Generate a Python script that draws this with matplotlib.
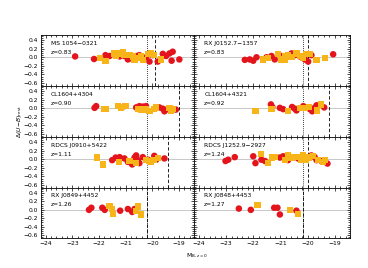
import matplotlib
matplotlib.use("Agg")
import matplotlib.pyplot as plt
from matplotlib.ticker import MultipleLocator, FixedLocator

# ---------------- data ----------------
names = ["MS 1054\u22120321", "RX J0152.7\u22121357",
         "CL1604+4304", "CL1604+4321",
         "RDCS J0910+5422", "RDCS J1252.9\u22122927",
         "RX J0849+4452", "RX J0848+4453"]
redshifts = ["z=0.83", "z=0.83", "z=0.90", "z=0.92",
             "z=1.11", "z=1.24", "z=1.26", "z=1.27"]
m_dotted = [-20.22, -20.17, -20.22, -20.17, -20.22, -20.17, -20.22, -20.17]
m_dashed = [-19.92, -19.98, -19.02, -19.21, -19.42, -19.98, -20.22, -20.17]

red_x = [
    [-22.90, -22.19, -21.76, -21.61, -21.42, -21.23, -21.05, -20.92, -20.80, -20.61, -20.49,
     -20.24, -20.11, -19.99, -19.80, -19.61, -19.49, -19.36, -19.24, -19.28, -18.99],
    [-22.31, -22.13, -22.00, -21.88, -21.51, -21.33, -21.21, -20.96, -20.59, -20.47, -20.29,
     -20.10, -19.98, -19.86, -19.06],
    [-22.17, -22.11, -21.05, -20.61, -20.49, -20.36, -20.24, -19.74, -19.61, -19.55, -19.43, -19.12],
    [-21.35, -21.30, -21.02, -20.90, -20.57, -20.47, -20.41, -20.16, -19.92, -19.83, -19.74,
     -19.67, -19.39],
    [-21.51, -21.38, -21.23, -21.05, -20.92, -20.80, -20.76, -20.67, -20.61, -20.55, -20.49,
     -20.36, -20.17, -19.93, -19.86, -19.55],
    [-23.02, -22.92, -22.68, -22.00, -21.92, -21.70, -21.57, -21.02, -20.90, -20.72, -20.35,
     -19.86, -19.74, -19.67, -19.49, -19.37, -19.27],
    [-22.38, -22.29, -21.88, -21.79, -21.21, -20.92, -20.76, -20.67],
    [-22.53, -22.09, -21.23, -21.11, -21.02, -20.41],
]
red_y = [
    [0.02, -0.04, 0.05, 0.03, 0.07, 0.02, 0.03, -0.05, -0.02, 0.03, 0.05,
     0.00, -0.10, 0.05, -0.10, 0.08, 0.03, 0.09, 0.13, -0.08, -0.05],
    [-0.06, -0.05, -0.08, 0.00, 0.00, 0.03, -0.05, 0.03, 0.09, 0.05, 0.02,
     -0.05, -0.10, 0.05, 0.07],
    [0.01, 0.05, 0.05, 0.02, 0.05, 0.04, 0.05, 0.02, -0.01, -0.07, -0.02, -0.03],
    [0.09, 0.03, 0.01, -0.02, 0.03, -0.01, -0.05, 0.05, -0.02, -0.07, 0.01, 0.07, 0.02],
    [-0.02, 0.04, 0.05, 0.02, -0.06, -0.08, -0.12, 0.04, 0.09, -0.02, -0.09,
     0.05, -0.01, 0.08, -0.01, 0.02],
    [-0.04, -0.01, 0.05, 0.07, -0.09, -0.01, -0.04, 0.04, 0.07, -0.02, 0.02,
     0.09, 0.05, -0.02, -0.04, -0.06, -0.10],
    [0.00, 0.05, 0.05, 0.00, -0.02, 0.02, -0.05, 0.02],
    [0.03, 0.00, 0.05, 0.05, -0.11, -0.02],
]
org_x = [
    [-21.98, -21.76, -21.42, -21.36, -21.23, -21.11, -21.05, -20.86, -20.74, -20.67, -20.55,
     -20.42, -20.36, -20.17, -20.05, -19.93, -19.68],
    [-21.63, -21.45, -21.08, -20.96, -20.84, -20.72, -20.59, -20.41, -20.29, -20.16, -20.04,
     -19.92, -19.67, -19.37, -20.84],
    [-21.83, -21.73, -21.30, -21.17, -20.98, -20.55, -20.42, -20.24, -20.11, -19.93, -19.86,
     -19.36, -19.30, -19.24],
    [-21.92, -21.33, -20.72, -20.29, -20.10, -19.96, -19.64, -19.51],
    [-22.08, -21.86, -21.26, -20.86, -20.61, -20.24, -20.11, -20.05, -19.96, -19.80],
    [-21.72, -21.45, -21.30, -21.21, -20.84, -20.72, -20.59, -20.41, -20.25, -20.16, -20.08,
     -19.96, -19.80, -19.61, -19.43, -19.37],
    [-21.61, -21.51, -21.48, -20.61, -20.55, -20.42],
    [-21.84, -20.65, -20.35],
]
org_y = [
    [-0.01, -0.09, 0.09, 0.03, 0.09, 0.11, 0.05, 0.05, 0.02, -0.06, -0.01,
     0.03, -0.06, 0.08, 0.09, 0.05, -0.05],
    [-0.05, -0.02, 0.08, -0.05, 0.02, 0.05, 0.00, 0.09, 0.03, -0.02, 0.08,
     0.08, -0.06, -0.02, -0.06],
    [-0.02, -0.02, 0.05, 0.02, 0.05, -0.01, -0.03, -0.03, -0.06, -0.01, 0.02,
     0.01, -0.05, -0.01],
    [-0.07, -0.01, -0.07, 0.01, 0.01, 0.03, -0.05, 0.09],
    [0.04, -0.12, -0.07, -0.04, -0.09, -0.02, -0.04, -0.06, -0.02, 0.03],
    [0.12, -0.09, 0.04, 0.05, -0.01, 0.10, 0.04, 0.05, -0.01, 0.09, -0.02,
     0.04, 0.07, -0.02, -0.06, -0.01],
    [0.10, 0.02, -0.09, -0.03, 0.08, -0.11],
    [0.12, 0.00, -0.09],
]
xticks = [-24, -23, -22, -21, -20, -19]
yticks = [0.4, 0.2, 0.0, -0.2, -0.4, -0.6]

# ---------------- figure ----------------
W, H = 368, 268
fig = plt.figure(figsize=(W / 100, H / 100), dpi=100)
RED = "#e3141b"
ORG = "#f8b519"

row_edges = [35, 86, 137, 188, 238]
col_edges = [(41, 194), (194, 350)]
fs = 4.3

for i in range(8):
    r, c = divmod(i, 2)
    x0, x1 = col_edges[c]
    y0, y1 = row_edges[r], row_edges[r + 1]
    ax = fig.add_axes([x0 / W, 1 - y1 / H, (x1 - x0) / W, (y1 - y0) / H])
    ax.set_xlim(-24.18, -18.44)
    ax.set_ylim(-0.67, 0.52)
    ax.axhline(0, color="#c8c8c8", lw=0.7, zorder=1)
    ax.axvline(m_dotted[i], color="black", lw=0.6, ls=(0, (1, 1.5)), zorder=2)
    ax.axvline(m_dashed[i], color="black", lw=0.6, ls=(0, (4, 2.5)), zorder=2)
    ax.scatter(red_x[i], red_y[i], s=22, marker="o", color=RED, edgecolors="none", zorder=3)
    ax.scatter(org_x[i], org_y[i], s=20, marker="s", color=ORG, edgecolors="none", zorder=4)
    ax.text(0.065, 0.84, names[i], transform=ax.transAxes, fontsize=fs, va="center", ha="left")
    ax.text(0.065, 0.66, redshifts[i], transform=ax.transAxes, fontsize=fs, va="center", ha="left")

    ax.xaxis.set_major_locator(FixedLocator(xticks))
    ax.xaxis.set_minor_locator(MultipleLocator(0.2))
    ax.yaxis.set_major_locator(FixedLocator(yticks))
    ax.yaxis.set_minor_locator(MultipleLocator(0.05))
    ax.tick_params(which="both", direction="in", top=True, right=True, width=0.5,
                   labelsize=fs, pad=2)
    ax.tick_params(which="major", length=2.5)
    ax.tick_params(which="minor", length=1.2)
    for sp in ax.spines.values():
        sp.set_linewidth(0.6)
    if c == 0:
        ax.set_yticklabels([f"{v:.1f}".replace("-", "\u2212") for v in yticks])
    else:
        ax.set_yticklabels([])
    if r == 3:
        ax.set_xticklabels([f"{v}".replace("-", "\u2212") for v in xticks])
    else:
        ax.set_xticklabels([])

fig.text(19 / W, 0.545, r"$\Delta(U\!-\!B)_{\rm rest}$", rotation=90, fontsize=fs,
         ha="center", va="center")
fig.text(186 / W, 1 - 256 / H, r"M$_{\rm B,z=0}$", fontsize=fs, ha="left", va="center")

fig.savefig("out.png", dpi=100)
